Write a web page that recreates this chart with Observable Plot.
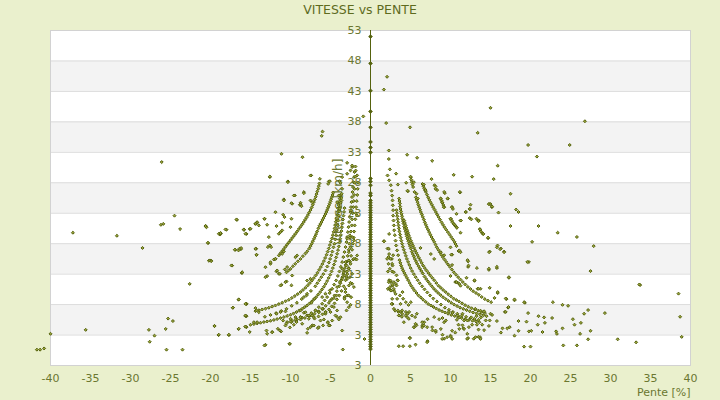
<!DOCTYPE html>
<html>
<head>
<meta charset="utf-8">
<script src="https://cdn.jsdelivr.net/npm/d3@7"></script>
<script src="https://cdn.jsdelivr.net/npm/@observablehq/plot@0.6"></script>
<style>
  html, body { margin: 0; padding: 0; background: #eaf0cd; }
  #title { height: 20px; line-height: 20px; text-align: center; font-family: "DejaVu Sans", sans-serif; font-size: 12.5px; color: #5e6b1e; }
  #chart svg { display: block; overflow: visible; }
</style>
</head>
<body>
<div id="title">VITESSE vs PENTE</div>
<div id="chart"></div>
<script>
// ---- axes / ticks ----
const xTicks = [-40, -35, -30, -25, -20, -15, -10, -5, 0, 5, 10, 15, 20, 25, 30, 35, 40];
const yTicks = [-2, 3, 8, 13, 18, 23, 28, 33, 38, 43, 48, 53];
const yTickLabels = ["3", "3", "8", "13", "18", "23", "28", "33", "38", "43", "48", "53"];
const bandStarts = [3, 13, 23, 33, 43];

// ---- points at zero slope (vitesse values) ----
const zeroSlopeSpeeds = [52.0, 47.6, 43.1, 39.7, 37.1, 34.7, 33.8, 33.0, 28.7, 28.2, 27.6, 26.3, 25.9,
  25.1, 24.7, 24.3, 23.9, 23.5, 23.1, 22.7, 22.3, 21.9, 21.5, 21.1, 20.7, 20.3, 19.9, 19.5, 19.1, 18.7,
  18.3, 17.9, 17.5, 17.1, 16.7, 16.3, 15.9, 15.5, 15.1, 14.7, 14.3, 13.9, 13.5, 13.1, 12.7, 12.3, 11.9,
  11.5, 11.1, 10.7, 10.3, 9.9, 9.5, 9.1, 8.7, 8.3, 7.9, 7.5, 7.1, 6.7, 6.3, 5.9, 5.5, 5.1, 4.7, 4.3,
  3.9, 3.5, 3.1, 2.7, 2.3, 1.9, 1.5, 1.1, 0.7];

// ---- uphill chains [pente, vitesse] ----
const upChainA = [[2.13,29.2],[2.33,28.4],[2.54,27.6],[2.63,26.7],[2.71,25.9],[2.75,25.1],[2.79,24.3],[2.83,23.5],[2.83,22.6],[2.88,21.8],[2.92,21.0],[2.96,20.2],[3.04,19.4],[3.13,18.5],[3.21,17.7],[3.33,16.9],[3.46,16.1],[3.63,15.3],[3.73,14.85],[3.83,14.4],[3.95,14.0],[4.08,13.6],[4.23,13.2],[4.38,12.8],[4.55,12.4],[4.71,12.0],[4.9,11.55],[5.08,11.1],[5.3,10.7],[5.5,10.3],[5.75,9.9],[6.0,9.5],[6.3,9.15],[6.58,8.8],[6.9,8.45],[7.21,8.1],[7.55,7.85],[7.88,7.6],[8.23,7.35],[8.58,7.1],[8.95,6.9],[9.33,6.7],[9.7,6.5],[10.1,6.3],[10.53,6.12],[10.96,5.95],[11.4,5.78],[11.83,5.6],[12.3,5.47],[12.75,5.35],[13.2,5.22],[13.6,5.1]];
const upChainA2 = [[3.25,23.5],[3.3,23.0],[3.35,22.5],[3.4,22.0],[3.45,21.5],[3.5,21.0],[3.55,20.5],[3.62,20.0],[3.7,19.5],[3.77,19.0],[3.85,18.5],[3.95,18.0],[4.05,17.5],[4.17,17.0],[4.3,16.5],[4.42,16.0],[4.55,15.5],[4.7,15.0],[4.85,14.5],[5.02,14.0],[5.2,13.5],[5.42,13.0],[5.65,12.5],[5.9,12.0],[6.15,11.5],[6.45,11.0],[6.75,10.5],[7.1,10.0],[7.45,9.5],[7.85,9.0],[8.3,8.5],[8.8,8.0],[9.3,7.5],[9.8,7.15],[10.3,6.8],[10.85,6.5],[11.4,6.2],[11.95,6.0],[12.5,5.8],[13.0,5.65],[13.5,5.5]];
const upChainB = [[3.58,25.4],[3.62,25.0],[3.67,24.6],[3.71,24.1],[3.75,23.7],[3.81,23.3],[3.88,22.9],[3.94,22.5],[4.0,22.1],[4.06,21.7],[4.13,21.3],[4.21,20.8],[4.29,20.4],[4.38,20.0],[4.46,19.6],[4.54,19.2],[4.63,18.8],[4.73,18.4],[4.83,18.0],[4.94,17.6],[5.04,17.2],[5.17,16.7],[5.29,16.3],[5.42,15.9],[5.54,15.5],[5.69,15.1],[5.83,14.7],[6.0,14.3],[6.17,13.9],[6.35,13.5],[6.54,13.1],[6.75,12.6],[6.96,12.2],[7.19,11.8],[7.42,11.4],[7.67,11.0],[7.92,10.6],[8.19,10.25],[8.46,9.9],[8.77,9.55],[9.08,9.2],[9.42,8.9],[9.75,8.6],[10.1,8.3],[10.46,8.0],[10.83,7.75],[11.2,7.5],[11.6,7.3],[12.0,7.1],[12.4,6.9],[12.83,6.7],[13.25,6.55],[13.67,6.4],[14.1,6.25],[14.5,6.1]];
const upChainC = [[4.21,21.8],[4.29,21.4],[4.38,21.0],[4.48,20.6],[4.58,20.2],[4.69,19.8],[4.79,19.4],[4.92,18.95],[5.04,18.5],[5.17,18.1],[5.29,17.7],[5.44,17.3],[5.58,16.9],[5.73,16.5],[5.88,16.1],[6.04,15.7],[6.21,15.3],[6.4,14.85],[6.58,14.4],[6.79,14.0],[7.0,13.6],[7.23,13.2],[7.46,12.8],[7.71,12.4],[7.96,12.0],[8.23,11.55],[8.5,11.1],[8.79,10.75],[9.08,10.4],[9.4,10.05],[9.71,9.7],[10.05,9.35],[10.38,9.0],[10.73,8.75],[11.08,8.5],[11.45,8.2],[11.83,7.9],[12.23,7.65],[12.63,7.4],[13.05,7.2],[13.46,7.0],[13.9,6.8],[14.3,6.6]];
const upChainD = [[5.04,28.9],[5.1,28.5],[5.17,28.1],[5.25,27.7],[5.33,27.3],[5.5,26.5],[5.67,25.6],[5.77,25.2],[5.88,24.8],[5.98,24.4],[6.08,24.0],[6.19,23.6],[6.29,23.2],[6.42,22.8],[6.54,22.4],[6.67,21.95],[6.79,21.5],[6.92,21.1],[7.04,20.7],[7.19,20.3],[7.33,19.9],[7.48,19.5],[7.63,19.1],[7.79,18.7],[7.96,18.3],[8.13,17.85],[8.29,17.4],[8.48,17.0],[8.67,16.6],[8.85,16.2],[9.04,15.8],[9.25,15.4],[9.46,15.0],[9.69,14.6],[9.92,14.2],[10.17,13.75],[10.42,13.3],[10.69,12.9],[10.96,12.5],[11.25,12.1],[11.54,11.7],[11.85,11.3],[12.17,10.9],[12.5,10.55],[12.83,10.2],[13.19,9.9],[13.54,9.6],[13.9,9.25],[14.29,8.9],[14.68,8.65],[15.08,8.4]];
const upChainE = [[6.5,27.8],[6.6,27.45],[6.71,27.1],[6.81,26.8],[6.92,26.5],[7.06,26.05],[7.21,25.6],[7.35,25.2],[7.5,24.8],[7.67,24.4],[7.83,24.0],[8.0,23.6],[8.17,23.2],[8.33,22.8],[8.5,22.4],[8.69,21.95],[8.88,21.5],[9.06,21.1],[9.25,20.7],[9.46,20.3],[9.67,19.9],[9.88,19.5],[10.08,19.1],[10.29,18.7],[10.5,18.3],[10.62,17.95],[10.75,17.6]];
const upChainF = [[8.0,27.6],[8.13,27.0],[8.79,25.4],[8.9,25.05],[9.0,24.7],[9.1,24.35],[9.21,24.0],[10.04,22.1],[10.15,21.8],[10.25,21.5],[10.4,21.25],[10.5,21.1],[10.62,20.9],[10.75,20.7],[13.5,21.8],[13.67,20.4],[14.08,19.6],[15.88,17.7],[16.3,17.2],[14.83,24.5],[15.17,24.0]];

// ---- downhill chains [pente, vitesse] ----
const downChain1 = [[-15.0,4.69],[-14.58,4.8],[-14.17,4.91],[-13.75,5.02],[-13.33,5.13],[-12.92,5.23],[-12.5,5.34],[-12.08,5.48],[-11.67,5.62],[-11.25,5.78],[-10.83,5.95],[-10.42,6.14],[-10.0,6.33],[-9.62,6.55],[-9.25,6.77],[-8.9,7.04],[-8.54,7.31],[-8.23,7.58],[-7.92,7.86],[-7.62,8.19],[-7.33,8.52],[-7.06,8.88],[-6.79,9.23],[-6.54,9.64],[-6.29,10.05],[-6.06,10.49],[-5.83,10.93],[-5.62,11.4],[-5.42,11.86],[-5.23,12.38],[-5.04,12.9],[-4.87,13.45],[-4.71,13.99],[-4.56,14.57],[-4.42,15.14],[-4.29,15.75],[-4.17,16.35],[-4.06,16.95],[-3.96,17.55],[-3.87,18.18],[-3.79,18.81],[-3.71,19.44],[-3.63,20.07],[-3.56,20.7],[-3.5,21.33],[-3.44,21.96],[-3.38,22.6],[-3.31,23.22],[-3.25,23.84]];
const downChain2 = [[-14.38,6.93],[-13.96,7.07],[-13.54,7.2],[-13.12,7.34],[-12.71,7.48],[-12.29,7.67],[-11.88,7.86],[-11.46,8.08],[-11.04,8.3],[-10.62,8.55],[-10.21,8.79],[-9.83,9.1],[-9.46,9.4],[-9.1,9.72],[-8.75,10.05],[-8.44,10.4],[-8.13,10.76],[-7.85,11.15],[-7.58,11.53],[-7.33,11.94],[-7.08,12.35],[-6.85,12.79],[-6.63,13.23],[-6.42,13.7],[-6.21,14.16],[-6.02,14.65],[-5.83,15.14],[-5.67,15.66],[-5.5,16.18],[-5.35,16.7],[-5.21,17.22],[-5.08,17.77],[-4.96,18.32],[-4.83,18.86],[-4.71,19.41],[-4.6,19.95],[-4.5,20.5],[-4.42,21.05],[-4.33,21.6],[-4.25,22.15],[-4.17,22.7],[-4.1,23.25],[-4.04,23.79],[-3.98,24.33],[-3.92,24.88],[-3.85,25.4],[-3.79,25.92]];
const downChain3 = [[-10.42,5.13],[-9.8,5.33],[-9.17,5.56],[-8.54,5.87],[-7.92,6.22],[-7.4,6.6],[-6.88,7.04],[-6.46,7.58],[-6.04,8.14],[-5.73,8.68],[-5.42,9.23],[-5.1,9.9],[-4.79,10.6],[-4.54,11.28],[-4.29,11.97],[-4.08,12.7],[-3.88,13.44],[-3.71,14.2],[-3.54,14.98],[-3.4,15.8],[-3.25,16.62],[-3.12,17.44],[-3.0,18.26],[-2.92,19.08],[-2.83,19.9],[-2.75,20.72],[-2.67,21.55],[-2.58,22.37],[-2.5,23.19],[-2.44,24.0],[-2.38,24.83],[-2.31,25.65],[-2.25,26.47],[-2.19,27.3],[-2.13,28.1],[-2.06,28.93],[-2.0,29.76]];
const downChain4 = [[-11.46,16.07],[-11.25,16.43],[-11.04,16.78],[-10.83,17.13],[-10.63,17.49],[-10.42,17.85],[-10.21,18.21],[-10.0,18.57],[-9.79,18.92],[-9.58,19.28],[-9.38,19.63],[-9.17,20.0],[-8.96,20.4],[-8.75,20.78],[-8.54,21.16],[-8.35,21.55],[-8.17,21.93],[-8.0,22.3],[-7.83,22.69],[-7.67,23.1],[-7.5,23.52],[-7.35,23.95],[-7.21,24.39],[-7.08,24.83],[-6.96,25.27],[-6.85,25.7],[-6.75,26.14],[-6.65,26.58],[-6.54,27.02],[-6.46,27.45],[-6.38,27.89]];
const downChain5 = [[-10.5,13.3],[-10.25,13.6],[-10.0,13.87],[-9.7,14.3],[-9.4,14.7],[-9.08,15.1],[-8.75,15.5],[-8.45,15.95],[-8.13,16.4],[-7.9,16.75],[-7.65,17.2],[-7.5,17.6],[-7.35,18.0],[-7.21,18.4],[-7.06,18.8],[-6.92,19.2],[-6.8,19.6],[-6.67,20.0],[-6.52,20.5],[-6.38,20.94],[-6.25,21.25],[-6.13,21.55],[-6.0,21.9],[-5.88,22.2],[-5.75,22.55],[-5.63,22.86],[-5.52,23.2],[-5.42,23.52],[-5.31,23.9],[-5.21,24.23],[-5.1,24.6],[-5.0,24.94],[-4.92,25.3],[-4.83,25.65],[-4.75,26.0],[-4.67,26.36]];
const downChain6 = [[-13.2,6.0],[-12.5,6.3],[-11.8,6.6],[-11.15,6.95],[-10.5,7.3],[-9.85,7.8],[-9.2,8.3],[-8.6,8.9],[-8.0,9.5],[-7.45,10.25],[-6.9,11.0],[-6.65,11.5],[-6.4,12.0],[-6.15,12.5],[-5.9,13.0],[-5.63,13.6],[-5.4,14.25],[-5.2,14.9],[-5.05,15.5],[-4.9,16.1],[-4.77,16.7],[-4.63,17.4],[-4.5,18.0],[-4.4,18.7],[-4.3,19.4],[-4.2,20.2],[-4.1,21.0],[-4.02,21.8],[-3.95,22.6],[-3.88,23.3],[-3.8,24.0],[-3.72,24.7],[-3.65,25.5],[-3.6,26.2],[-3.55,27.0]];
const downChain7 = [[-10.5,4.9],[-9.9,5.1],[-9.3,5.3],[-8.75,5.55],[-8.2,5.8],[-7.6,6.15],[-7.0,6.5],[-6.5,6.9],[-6.0,7.3],[-5.6,7.8],[-5.2,8.3],[-4.85,8.9],[-4.5,9.5],[-4.2,10.2],[-3.9,11.0],[-3.77,11.5],[-3.65,12.0],[-3.52,12.5],[-3.4,13.0],[-3.3,13.5],[-3.2,14.0],[-3.1,14.5],[-3.0,15.0],[-2.85,16.0],[-2.72,17.0],[-2.65,18.0],[-2.55,19.0],[-2.45,20.0],[-2.35,21.0],[-2.3,22.0],[-2.22,23.0],[-2.15,24.0],[-2.1,25.0],[-2.05,26.0],[-2.0,27.0],[-1.95,28.0],[-1.9,29.0],[-1.85,30.0]];
const downChain8 = [[-7.0,5.7],[-6.5,6.05],[-6.0,6.4],[-5.6,6.8],[-5.2,7.2],[-4.85,7.7],[-4.5,8.2],[-4.2,8.85],[-3.9,9.5],[-3.62,10.25],[-3.35,11.0],[-3.12,12.0],[-2.9,13.0],[-2.72,14.0],[-2.55,15.0],[-2.42,16.0],[-2.3,17.0],[-2.2,18.0],[-2.1,19.0],[-2.05,20.0],[-1.98,21.0],[-1.9,22.0],[-1.85,23.0],[-1.8,24.0],[-1.72,25.0],[-1.65,26.0],[-1.6,27.0],[-1.55,28.0]];

// ---- isolated points, uphill [pente, vitesse] ----
const upScatter = [[2.07,45.4],[1.67,43.3],[1.96,37.8],[4.94,37.1],[15.0,40.3],[26.8,38.1],[13.4,36.2],[19.7,34.2],[24.9,34.2],[20.8,32.3],[15.9,30.8],[10.4,29.3],[12.7,29.0],[15.4,28.6],[11.2,26.4],[17.5,26.2],[10.2,24.0],[10.3,23.7],[12.5,24.4],[12.4,23.7],[11.9,23.2],[15.0,24.5],[15.2,24.1],[16.0,23.1],[18.2,23.6],[18.5,23.2],[10.75,22.9],[11.25,21.8],[12.4,22.2],[12.6,22.0],[13.25,22.1],[13.5,21.8],[13.7,20.3],[13.8,20.0],[14.0,19.7],[17.5,20.9],[21.0,20.9],[23.4,19.8],[25.8,19.1],[14.7,18.9],[20.2,18.3],[27.9,17.6],[10.2,16.2],[11.0,16.8],[11.25,16.6],[14.9,16.7],[15.8,17.4],[16.2,17.1],[16.7,16.7],[12.2,15.1],[10.2,14.5],[12.2,14.2],[13.3,14.0],[14.8,13.7],[15.8,14.0],[19.8,15.0],[27.5,13.5],[10.0,12.7],[10.6,11.7],[10.9,11.6],[11.25,11.1],[12.0,12.4],[13.0,11.9],[13.4,10.6],[13.75,10.6],[14.9,10.75],[15.9,9.9],[15.5,9.1],[17.3,12.4],[17.0,8.9],[18.0,8.7],[19.3,8.3],[22.8,8.4],[24.0,7.96],[24.7,7.8],[27.2,7.1],[26.7,6.5],[29.3,6.6],[33.7,11.2],[38.5,9.8],[38.7,6.0],[38.9,2.7],[27.5,3.7],[27.2,2.3],[30.9,2.3],[26.2,3.2],[25.3,5.6],[25.5,4.7],[26.3,5.0],[24.0,4.1],[23.2,3.6],[23.3,3.2],[22.7,5.8],[21.7,5.9],[21.8,5.0],[21.0,6.1],[20.9,4.7],[21.5,3.5],[19.7,6.6],[19.5,5.2],[20.1,3.7],[19.8,3.6],[18.5,5.3],[18.5,3.7],[18.0,2.9],[17.2,7.5],[16.8,6.8],[17.4,4.3],[17.1,4.1],[16.5,4.1],[16.3,3.4],[15.8,5.3],[15.0,6.5],[15.2,6.3],[14.9,5.4],[14.8,4.5],[14.2,6.9],[14.4,5.4],[14.2,3.8],[13.75,7.0],[13.8,5.9],[13.96,4.7],[13.1,7.3],[13.25,6.1],[13.3,4.7],[13.5,3.9],[13.5,2.7],[13.7,2.65],[12.6,5.9],[12.7,4.7],[12.9,2.4],[12.1,5.4],[12.3,4.3],[12.1,3.2],[12.2,2.5],[11.5,6.5],[11.7,5.4],[11.6,4.1],[10.8,5.5],[11.0,4.7],[10.6,3.4],[10.2,3.7],[10.0,2.9],[33.2,1.8],[33.6,11.3],[25.8,1.3],[24.1,1.3],[19.2,1.1],[20.0,1.1],
  [2.29,33.3],[2.29,31.9],[4.58,32.6],[5.83,32.1],[7.71,31.6],[2.42,30.2],[3.2,29.5],[5.0,29.0],[5.42,28.1],[4.46,28.0],[3.42,27.7],[6.67,27.7],[7.63,28.6],[8.13,27.4],[8.33,26.8],[4.67,26.6],[5.75,26.2],[5.92,25.4],[6.88,26.8],[9.29,26.3],[8.75,25.4],[8.96,24.8],[9.67,25.4],[9.17,24.0],[1.67,18.4],[6.25,17.3],[4.63,26.7],[9.21,26.5],[9.63,25.4],[10.17,24.0],[11.17,26.5],[11.92,23.2],[12.42,23.7],[11.3,21.8],[7.54,16.3],[7.96,15.5],[8.79,16.6],[9.21,16.1],[10.1,16.2],[11.1,16.9],[12.13,15.3],[12.25,14.4],[14.83,16.6],[16.7,16.6],[19.6,15.0],[14.8,13.9],[15.8,14.2],[17.3,12.5],[13.0,12.0],[13.5,10.6],[10.75,11.7],[11.1,11.4],[15.9,10.05],[16.9,9.0],[18.0,8.85],[19.2,8.4],[17.25,7.6],[16.9,6.8],[1.71,18.4],[2.33,19.6],[2.13,17.2],[2.33,16.3],[2.25,15.8],[2.67,15.5],[2.83,16.1],[2.25,14.7],[2.75,14.4],[2.33,12.0],[2.54,11.7],[2.75,11.1],[2.33,10.6],[2.54,10.3],[2.96,10.2],[3.17,11.4],[3.38,12.0],[3.25,12.8],[2.75,8.1],[3.08,7.0],[3.5,6.8],[3.58,6.2],[3.92,6.0],[3.8,6.8],[4.42,6.8],[4.63,6.5],[4.83,6.8],[5.17,6.2],[5.58,5.95],[5.79,6.5],[4.08,8.96],[4.42,8.4],[4.75,7.95],[5.04,8.4],[4.0,10.05],[5.46,4.3],[5.75,4.6],[6.5,4.6],[6.71,5.1],[7.13,5.6],[7.75,3.75],[8.17,3.5],[8.79,4.0],[9.21,2.4],[9.0,3.05],[10.04,2.7],[4.92,2.55],[7.13,2.0],[7.96,5.95],[8.58,5.6],[9.0,5.8],[9.42,5.4],[9.2,5.1],[9.8,6.8],[10.25,6.65],[10.9,6.2],[11.1,5.9],[11.5,4.6],[11.7,4.0],[11.1,4.0],
  [2.29,17.15],[2.08,15.51],[2.5,15.51],[2.71,14.69],[2.42,13.87],[2.17,13.43],[2.71,13.43],[2.92,13.32],[2.5,11.95],[2.29,11.68],[2.92,11.68],[2.71,11.24],[2.42,10.86],[2.17,10.58],[2.58,10.31],[2.92,10.58],[3.25,11.13],[3.42,11.95],[3.13,9.76],[3.67,9.49],[2.71,8.94],[3.33,8.94],[2.63,8.12],[3.75,8.12],[2.92,7.3],[3.42,7.03],[3.96,7.03],[3.54,6.21],[3.96,6.48],[4.38,6.21],[4.58,5.93],[4.17,5.11],[4.79,5.66],[5.42,4.29],[5.63,4.84],[6.46,5.11],[6.46,4.29],[6.67,4.56],[7.08,4.29],[7.71,4.29],[8.13,3.74],[8.96,2.37],[9.58,2.65],[10.21,2.37],[4.92,2.48],[5.63,1.44],[7.08,1.83],[3.54,1.17],[4.08,1.17],[4.92,1.17],[12.08,2.37],[13.13,2.65],[13.75,2.37],
  [14.8,24.5],[13.5,21.7],[14.1,19.6],[14.7,19.0],[10.0,17.4],[11.25,19.8],[10.8,20.6],[10.0,22.1]];

// ---- isolated points, downhill [pente, vitesse] ----
const downScatter = [[-26.1,31.4],[-24.5,22.6],[-26.2,21.1],[-25.9,21.25],[-23.8,20.4],[-37.2,19.8],[-31.7,19.3],[-28.5,17.3],[-20.6,20.9],[-20.5,20.7],[-20.3,18.1],[-18.8,19.5],[-18.7,19.7],[-18.0,20.3],[-16.7,21.9],[-15.8,20.3],[-15.5,19.6],[-15.1,20.4],[-20.2,15.2],[-19.9,15.2],[-16.9,17.0],[-16.5,16.9],[-16.2,17.1],[-17.3,14.4],[-16.1,13.2],[-22.6,11.4],[-16.5,8.8],[-15.5,8.1],[-17.2,7.5],[-15.5,6.1],[-19.5,4.5],[-25.3,5.7],[-24.7,5.3],[-27.7,3.85],[-27.0,2.9],[-25.6,4.0],[-27.6,1.9],[-25.5,0.6],[-23.5,0.6],[-35.6,3.85],[-19.0,3.0],[-17.7,3.0],[-16.5,4.0],[-15.5,4.3],[-15.1,3.5],[-41.7,0.6],[-41.3,0.6],[-40.8,0.8],[-40.0,3.2],
  [-12.58,28.93],[-10.33,28.22],[-7.42,29.21],[-5.21,28.22],[-16.75,21.98],[-20.63,20.89],[-18.13,20.34],[-18.96,19.63],[-18.75,19.74],[-15.83,20.34],[-15.63,19.63],[-15.0,20.45],[-14.38,21.27],[-14.17,21.44],[-13.96,21.0],[-13.25,22.09],[-12.92,21.11],[-11.75,20.89],[-10.92,22.75],[-10.75,22.37],[-9.88,22.09],[-10.83,25.27],[-9.79,24.56],[-8.75,24.72],[-8.83,24.39],[-9.46,25.92],[-8.33,26.47],[-11.46,19.63],[-11.25,19.9],[-11.04,20.18],[-10.0,20.72],[-20.33,18.15],[-12.71,19.08],[-12.58,17.71],[-12.42,17.44],[-12.83,17.44],[-16.96,17.0],[-16.38,17.17],[-16.17,17.28],[-14.29,17.17],[-14.25,16.18],[-20.08,15.25],[-19.92,15.14],[-17.38,14.43],[-11.88,15.52],[-12.5,14.7],[-16.04,13.23],[-12.92,12.68],[-11.75,13.44],[-11.46,13.06],[-10.71,13.77],[-10.42,14.16],[-10.5,11.8],[-11.13,11.25],[-9.88,11.15],[-16.46,8.85],[-15.5,8.14],[-17.21,7.48],[-14.38,7.42],[-15.63,6.11],[-19.5,4.47],[-16.46,4.03],[-15.63,4.36],[-18.96,3.05],[-17.71,3.05],[-13.13,1.4],[-10.13,1.57],[-12.92,3.21],[-12.29,3.48],[-11.58,4.03],[-11.17,3.59],[-10.08,4.25],[-9.58,4.69],[-9.25,5.13],[-8.54,4.85],[-7.83,4.03],[-7.29,4.58],[-6.58,4.14],[-5.92,4.58],[-5.33,5.13],[-5.08,4.58],[-4.17,5.95],[-3.96,5.56],[-11.75,6.49],[-11.25,6.77],[-10.63,6.88],[-10.0,5.67],[-9.38,5.95],[-8.75,5.95],[-8.33,6.66],[-7.71,5.67],[-7.08,5.95],[-6.46,6.77],[-5.92,7.31],[-5.63,6.49],[-5.0,6.77],[-4.58,7.59],[-8.33,9.23],[-7.92,9.78],[-7.38,8.3],[-7.0,8.96],[-6.04,9.23],[-5.63,9.78],[-5.08,10.33],[-5.0,8.68],[-4.58,9.07],[-4.25,9.5],[-4.17,10.87],[-3.83,11.69],[-3.54,12.24],[-3.25,12.79],[-2.92,13.44],[-2.71,13.88],[-3.13,14.98],[-2.71,15.25],[-2.17,15.41],[-1.88,15.52],[-2.58,19.36],[-2.29,19.08],[-2.08,18.54],[-2.92,18.81],[-1.67,16.07],[-3.13,10.05],[-2.92,9.5],[-3.25,9.23],[-2.29,11.42],[-2.08,10.87],[-3.0,12.5],[-3.54,28.93],[-2.92,29.48],[-2.5,30.03],[-2.29,30.58],[-1.67,29.21],[-3.96,25.92],[-4.17,24.83],[-3.83,23.73],[-0.75,2.35],
  [-11.13,32.75],[-8.5,32.2],[-12.58,29.03],[-7.5,29.19],[-6.33,28.64],[-5.08,28.26],[-5.29,27.82],[-10.33,28.1],[-3.88,28.26],[-3.75,27.99],[-2.92,31.27],[-2.29,30.83],[-1.88,30.67],[-9.58,25.91],[-8.33,26.29],[-10.83,25.09],[-9.88,24.65],[-8.75,24.43],[-8.63,24.16],[-7.5,25.09],[-7.29,24.81],[-11.88,23.17],[-13.25,22.08],[-14.17,21.53],[-14.38,21.26],[-15.83,20.27],[-11.04,21.42],[-3.63,25.09],[-2.42,23.45],[-1.67,22.62],[-6.0,36.4],[-6.1,35.7],[-0.9,38.9],
  [-16.04,13.32],[-14.38,17.15],[-14.25,16.17],[-13.13,14.14],[-12.5,14.96],[-12.08,15.4],[-11.88,15.51],[-11.67,13.6],[-11.33,13.05],[-11.04,16.33],[-10.83,16.72],[-9.38,15.78],[-9.17,16.06],[-13.13,12.5],[-11.25,11.13],[-10.63,11.68],[-9.79,12.77],[-7.92,11.95],[-7.5,12.23],[-15.63,8.12],[-15.63,6.21],[-15.63,4.4],[-14.25,7.03],[-13.96,6.75],[-14.58,5.11],[-14.17,5.11],[-13.0,3.74],[-12.29,3.47],[-11.33,3.74],[-10.92,5.38],[-10.63,4.56],[-10.0,5.22],[-9.38,5.55],[-8.75,5.93],[-13.25,1.28],[-10.08,1.55],[-7.92,3.36],[-7.5,4.29],[-7.08,4.56],[-6.46,4.29],[-8.75,7.03],[-8.13,6.75],[-7.71,6.21],[-7.29,6.21],[-6.88,7.03],[-6.46,6.75],[-6.04,7.3],[-5.63,6.75],[-6.25,5.38],[-5.83,5.55],[-5.33,5.0],[-5.21,4.56],[-4.79,5.38],[-4.38,6.21],[-4.17,7.03],[-3.75,5.93],[-3.54,3.74],[-3.46,0.62],[-3.0,7.03],[-2.71,7.57],[-2.5,7.96],[-2.92,8.39],[-3.25,8.94],[-3.13,10.58],[-2.71,11.13],[-2.5,11.57],[-2.92,12.23],[-2.58,12.5],[-2.29,13.05],[-3.0,14.42],[-2.71,15.24],[-2.08,15.51],[-1.75,15.4],[-2.5,14.69],[-2.71,16.6],[-2.5,17.43],[-3.54,13.87],[-3.33,13.32],[-2.71,9.49],[-2.42,9.21]];

// ---- build tables ----
const pairs = [
  ...upChainA, ...upChainA2, ...upChainB, ...upChainC, ...upChainD, ...upChainE, ...upChainF,
  ...downChain1, ...downChain2, ...downChain3, ...downChain4, ...downChain5, ...downChain6, ...downChain7, ...downChain8,
  ...upScatter, ...downScatter
];
const points = pairs.map(([pente, vitesse]) => ({pente, vitesse}));
const zeroPoints = zeroSlopeSpeeds.map(v => ({pente: 0, vitesse: v}));

const olive = "#55620e";
const labelColor = "#6b7730";

const chart = Plot.plot({
  width: 720,
  height: 380,
  marginTop: 10,
  marginBottom: 35,
  marginLeft: 50,
  marginRight: 30,
  x: {domain: [-40, 40], axis: null},
  y: {domain: [-2, 53], axis: null},
  style: {background: "transparent", fontFamily: "DejaVu Sans, sans-serif", fontSize: "11px", overflow: "visible"},
  marks: [
    Plot.frame({fill: "white", stroke: "none"}),
    Plot.rect(bandStarts, {y1: d => d, y2: d => d + 5, fill: "#f3f3f3"}),
    Plot.ruleY(yTicks, {y: d => d, stroke: "#dcdcdc", strokeWidth: 1}),
    Plot.frame({stroke: "#d2d2d2", fill: "none"}),
    Plot.text(["Vitesse [km/h]"], {x: () => 0, frameAnchor: "middle", rotate: -90, dx: -32, dy: 4, fill: labelColor, fontSize: 12}),
    Plot.ruleX([0], {x: d => d, stroke: olive, strokeWidth: 1}),
    Plot.dot(points, {x: "pente", y: "vitesse", symbol: "diamond2", r: 1.35, fill: "#9aa43a", stroke: olive, strokeWidth: 1}),
    Plot.dot(zeroPoints, {x: "pente", y: "vitesse", symbol: "diamond2", r: 1.7, fill: olive, stroke: olive, strokeWidth: 0.8}),
    Plot.text(yTicks, {x: () => 0, y: d => d, text: (d, i) => yTickLabels[i], textAnchor: "end", dx: -9, fill: labelColor}),
    Plot.text(xTicks, {x: d => d, frameAnchor: "bottom", dy: 16, text: d => String(d), fill: labelColor}),
    Plot.text(["Pente [%]"], {frameAnchor: "bottom-right", dy: 30, textAnchor: "end", fill: labelColor})
  ]
});
document.getElementById("chart").appendChild(chart);
</script>
</body>
</html>
